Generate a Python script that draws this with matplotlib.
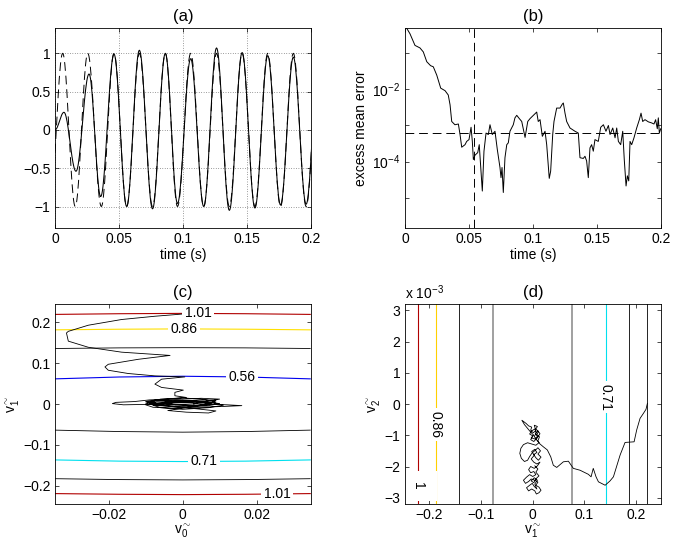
import numpy as np
import matplotlib
matplotlib.use("Agg")
import matplotlib.pyplot as plt

plt.rcParams['font.family'] = ['Liberation Sans', 'DejaVu Sans']
plt.rcParams['mathtext.fontset'] = 'custom'
plt.rcParams['mathtext.rm'] = 'Liberation Sans'
plt.rcParams['mathtext.it'] = 'Liberation Sans:italic'
plt.rcParams['font.size'] = 10
plt.rcParams['axes.linewidth'] = 0.6
for ax_name in ('xtick', 'ytick'):
    plt.rcParams[ax_name + '.direction'] = 'in'
    plt.rcParams[ax_name + '.major.size'] = 2.6
    plt.rcParams[ax_name + '.major.width'] = 0.5
    plt.rcParams[ax_name + '.major.pad'] = 3.2
plt.rcParams['xtick.top'] = True
plt.rcParams['ytick.right'] = True

MINUS = '\u2212'

# ---- (a) filter output (extrema) ----
a_out_t = [0.0, 0.007, 0.0164, 0.0266, 0.0357, 0.0461, 0.056, 0.0659, 0.0762, 0.0862,
           0.0957, 0.106, 0.1162, 0.1262, 0.1362, 0.1462, 0.1562, 0.1662, 0.1762,
           0.1862, 0.1962, 0.2062]
a_out_y = [0.0, 0.23, -0.54, 0.73, -0.87, 0.99, -1.0, 1.04, -1.03, 1.0,
           -0.96, 0.93, -1.0, 1.07, -1.05, 1.01, -1.02, 0.97, -0.98,
           0.95, -0.97, 0.95]
# reference signal extrema
a_ref_t = [-0.004, 0.006, 0.0158, 0.0256, 0.0362, 0.0461, 0.056, 0.0659, 0.0762,
           0.0862, 0.0957, 0.106, 0.1162, 0.1262, 0.1362, 0.1462, 0.1562, 0.1662,
           0.1762, 0.1862, 0.1962, 0.2062]
a_ref_y = [-1, 1, -1, 1, -1, 1, -1, 1, -1, 1, -1, 1, -1, 1, -1, 1, -1, 1, -1, 1, -1, 1]

# ---- (b) excess mean error (log10 values) ----
b_t = [0.0, 0.0008, 0.0039, 0.0078, 0.0117, 0.0143, 0.017, 0.020, 0.0221, 0.0248,
       0.0279, 0.0313, 0.0338, 0.0352, 0.0365, 0.039, 0.0417, 0.043, 0.0443, 0.0469,
       0.0482, 0.050, 0.0516, 0.0526, 0.0534, 0.0547, 0.0568, 0.058, 0.0604, 0.0617,
       0.0633, 0.0651, 0.0664, 0.0682, 0.0703, 0.0721, 0.0742, 0.075, 0.0758, 0.0768,
       0.0781, 0.0795, 0.0807, 0.082, 0.0846, 0.0859, 0.0873, 0.0893, 0.0912, 0.0938,
       0.0959, 0.0977, 0.1003, 0.1029, 0.1041, 0.1055, 0.1073, 0.1094, 0.1107, 0.1127,
       0.1138, 0.1154, 0.1164, 0.1185, 0.1211, 0.1229, 0.1237, 0.125, 0.1263, 0.1289,
       0.1328, 0.1354, 0.1367, 0.1393, 0.1406, 0.1419, 0.1432, 0.1445, 0.1458, 0.1471,
       0.1484, 0.151, 0.1529, 0.155, 0.157, 0.1589, 0.1602, 0.1623, 0.1641, 0.1654,
       0.1667, 0.1685, 0.1701, 0.1713, 0.1727, 0.1737, 0.1748, 0.1758, 0.1771, 0.1789,
       0.181, 0.1831, 0.1844, 0.1857, 0.1875, 0.1901, 0.1927, 0.1945, 0.1958, 0.1971,
       0.1979, 0.1987, 0.1998]
b_log = [-0.25, -0.285, -0.47, -0.79, -0.86, -0.97, -1.24, -1.35, -1.38, -1.61,
         -1.97, -2.04, -2.16, -2.43, -2.89, -2.98, -2.96, -3.25, -3.6, -3.53,
         -3.44, -3.39, -3.05, -3.44, -3.94, -3.82, -3.75, -3.53, -4.81, -3.71,
         -3.21, -3.25, -2.98, -3.25, -3.16, -3.66, -4.16, -4.44, -4.16, -4.85,
         -3.89, -3.53, -3.48, -3.16, -2.98, -2.79, -2.72, -2.81, -2.89, -3.33,
         -2.89, -2.81, -2.72, -2.63, -2.89, -2.84, -3.30, -3.16, -3.53, -4.46,
         -4.26, -3.25, -2.89, -2.52, -2.52, -2.41, -2.38, -2.66, -2.89, -3.07,
         -3.16, -3.21, -3.89, -3.91, -3.85, -3.98, -4.44, -3.62, -3.53, -3.71,
         -3.39, -3.44, -3.05, -2.98, -3.16, -3.0, -3.25, -3.07, -3.34, -3.07,
         -3.44, -3.53, -3.16, -3.94, -4.67, -4.39, -4.53, -3.44, -3.53, -3.34,
         -3.07, -2.84, -2.66, -2.89, -2.84, -2.90, -2.93, -2.96, -2.84, -3.09,
         -2.79, -3.21, -3.09]
b_mis_log = -3.21      # misadjustment level
b_conv_t = 0.0539      # convergence time

# ---- (c) weight trajectory v0 / v1 with MSE contours ----
c_v0 = [0.0002, -0.0075, -0.0165, -0.0255, -0.0309, -0.0314, -0.0309, -0.0255, -0.0165,
        -0.0034, -0.012, -0.0201, -0.021, -0.0201, -0.0147, -0.0075, 0.0006, -0.0057,
        -0.0075, -0.0057, 0.0002, -0.0021, -0.0021,
        0.001, -0.004, -0.009, -0.013, -0.018, -0.019, -0.016, -0.010, -0.004, 0.003,
        0.008, 0.010, 0.005, -0.002, -0.008, -0.010, -0.007, 0.000, 0.007, 0.010,
        0.006, -0.001, -0.007, -0.010, -0.006, 0.002, 0.009, 0.012, 0.016, 0.011,
        0.004, -0.003, -0.008, -0.010, -0.005, 0.003, 0.009, 0.008, 0.002, -0.005,
        -0.009, -0.006, 0.000, 0.006, 0.009, 0.005, 0.000, -0.004, 0.001, 0.007,
        0.009, 0.004, -0.003, -0.009, -0.007, 0.001, 0.008, 0.011, 0.007, 0.000,
        -0.006, -0.008, -0.003, 0.004, 0.008, 0.004, -0.002, -0.005, 0.000, 0.005,
        0.003]
c_v1 = [0.2206, 0.215, 0.207, 0.193, 0.178, 0.174, 0.154, 0.139, 0.127,
        0.119, 0.1095, 0.0973, 0.0908, 0.0827, 0.0747, 0.0689, 0.0664, 0.0608,
        0.0487, 0.0406, 0.034, 0.0285, 0.0202,
        0.016, 0.012, 0.010, 0.006, 0.004, 0.001, -0.002, -0.001, 0.002, 0.004,
        0.008, 0.012, 0.014, 0.011, 0.007, 0.002, -0.004, -0.006, -0.004, 0.001,
        0.006, 0.008, 0.010, 0.006, 0.000, -0.003, -0.001, -0.002, -0.004, -0.006,
        -0.008, -0.010, -0.008, -0.002, 0.004, 0.009, 0.010, 0.004, 0.000, -0.003,
        0.003, 0.012, 0.015, 0.011, 0.005, -0.002, -0.010, -0.016, -0.020, -0.022,
        -0.017, -0.012, -0.006, -0.001, 0.005, 0.007, 0.003, -0.003, -0.009, -0.013,
        -0.009, -0.003, 0.003, 0.006, 0.000, -0.005, -0.002, 0.004, 0.009, 0.006,
        0.000]
c_grid_v0 = [-0.0345, -0.017, 0.0, 0.017, 0.0345]
c_lines_v1 = [
    [0.2195, 0.2212, 0.222, 0.2212, 0.2195],
    [0.1817, 0.1832, 0.184, 0.1832, 0.1817],
    [0.136, 0.1375, 0.138, 0.1375, 0.136],
    [0.0616, 0.0662, 0.068, 0.0662, 0.0616],
    [-0.064, -0.0675, -0.069, -0.0675, -0.064],
    [-0.137, -0.140, -0.141, -0.140, -0.137],
    [-0.183, -0.1852, -0.186, -0.1852, -0.183],
    [-0.2195, -0.2212, -0.222, -0.2212, -0.2195],
]
c_labels = ['1.01', '0.86', '', '0.56', '', '0.71', '', '1.01']
c_label_v0 = [0.0042, 0.0004, None, 0.0161, None, 0.0058, None, 0.0256]

# ---- (d) weight trajectory v1 / v2 (v2 in units of 1e-3) ----
d_v1 = [0.2217, 0.219, 0.214, 0.2075, 0.201, 0.196, 0.1785, 0.169, 0.156, 0.1495,
        0.140, 0.127, 0.1224, 0.117, 0.1128, 0.1075, 0.0915, 0.0785, 0.0689, 0.0592,
        0.0464, 0.0398, 0.0348, 0.0282, 0.0205,
        0.014, 0.010, 0.013, 0.008, 0.011, 0.006, 0.009, 0.003, 0.006, 0.001,
        -0.004, -0.002, -0.008, -0.013, -0.018, -0.021, -0.016, -0.010, -0.004, 0.002,
        -0.003, 0.004, 0.009, 0.005, 0.010, 0.014, 0.008, 0.002, -0.004, 0.000,
        -0.006, -0.002, 0.004, 0.007, 0.003, 0.008, 0.012, 0.006,
        -0.002, -0.010, -0.018, -0.023, -0.025, -0.022, -0.016, -0.010, -0.006, -0.001,
        0.005, 0.010, 0.015, 0.010, 0.016, 0.011, 0.006, 0.002, 0.008, 0.004,
        -0.002, 0.003, -0.003, 0.002, 0.008, 0.014, 0.009,
        0.003, -0.004, -0.008, -0.004, 0.002, 0.006, 0.000, -0.006, -0.012, -0.018,
        -0.014, -0.008, -0.003, 0.004, 0.010, 0.006, 0.012, 0.016, 0.012, 0.007,
        0.004, -0.002, -0.008, -0.012, -0.006, -0.001, 0.003, 0.008, 0.004, 0.009,
        0.003, -0.003, 0.002, 0.007, 0.012, 0.006, 0.010, 0.004]
d_v2 = [0.02, -0.17, -0.30, -0.46, -0.83, -1.21, -1.23, -1.63, -2.33, -2.46,
        -2.60, -2.49, -2.33, -2.06, -2.33, -2.25, -2.12, -2.06, -1.83, -1.85,
        -2.03, -1.96, -1.69, -1.47, -1.37,
        -1.28, -1.18, -1.05, -0.98, -0.88, -0.80, -0.72, -0.68, -0.85, -0.92,
        -0.84, -0.74, -0.70, -0.62, -0.56, -0.52, -0.66, -0.78, -0.90, -1.00,
        -1.08, -1.12, -1.04, -0.94, -0.86, -0.95, -1.10, -1.20, -1.14, -1.02,
        -0.96, -0.86, -0.80, -0.92, -1.04, -1.16, -1.24, -1.32,
        -1.28, -1.24, -1.30, -1.42, -1.58, -1.74, -1.84, -1.80, -1.68, -1.56,
        -1.48, -1.40, -1.50, -1.60, -1.70, -1.80, -1.72, -1.62, -1.55, -1.45,
        -1.52, -1.64, -1.76, -1.86, -1.92, -1.86, -1.98,
        -2.06, -2.00, -2.10, -2.20, -2.16, -2.26, -2.32, -2.26, -2.34, -2.44,
        -2.54, -2.48, -2.40, -2.44, -2.50, -2.60, -2.66, -2.76, -2.84, -2.88,
        -2.78, -2.72, -2.78, -2.68, -2.60, -2.54, -2.64, -2.72, -2.56, -2.44,
        -2.36, -2.46, -2.52, -2.38, -2.30, -2.18, -2.08, -1.98]
d_lines_v1 = [-0.221, -0.188, -0.142, -0.076, 0.075, 0.141, 0.187, 0.2205]
d_labels = ['1', '0.86', '', '', '', '0.71', '', '']
d_label_v2 = [-2.62, -0.65, None, None, None, 0.22, None, None]

# styles
c_colors = ['#b00000', '#ffe000', 'k', '#0000ee', 'k', '#00e0ee', 'k', '#b00000']
d_colors = ['#b00000', '#ffd000', 'k', '#999999', '#999999', '#00e0ee', 'k', 'k']
d_widths = [0.8, 0.8, 0.6, 1.3, 1.3, 0.8, 0.6, 0.6]


def through_extrema(tx, yx, n=24):
    """Smooth half-cosine pieces between successive extrema."""
    t_out, y_out = [tx[0]], [yx[0]]
    s = np.linspace(0, 1, n)[1:]
    for t0, t1, y0, y1 in zip(tx[:-1], tx[1:], yx[:-1], yx[1:]):
        t_out.extend(t0 + (t1 - t0) * s)
        y_out.extend(y0 + (y1 - y0) * (1 - np.cos(np.pi * s)) / 2)
    return np.array(t_out), np.array(y_out)


def label_box(pad=0.2):
    return dict(boxstyle='square,pad=%g' % pad, fc='white', ec='none')


fig = plt.figure(figsize=(6.75, 5.45), dpi=100)
W, H = 675, 545
def place(l, t, r, b):
    return fig.add_axes([l / W, 1 - b / H, (r - l) / W, (b - t) / H])

ax_a = place(55, 28, 311, 228)
ax_b = place(405, 28, 661, 228)
ax_c = place(55, 304, 311, 504)
ax_d = place(405, 304, 661, 504)

t_ticks = [0, 0.05, 0.1, 0.15, 0.2]
t_ticklabels = ['0', '0.05', '0.1', '0.15', '0.2']

# (a)
tr, yr = through_extrema(a_ref_t, a_ref_y)
to, yo = through_extrema(a_out_t, a_out_y)
ax_a.plot(tr, yr, color='k', lw=0.7, dashes=(9, 5))
ax_a.plot(to, yo, color='k', lw=0.75)
ax_a.set_xlim(0, 0.2)
ax_a.set_ylim(-1.28, 1.33)
ax_a.set_xticks(t_ticks, t_ticklabels)
ax_a.set_yticks([-1, -0.5, 0, 0.5, 1], [MINUS + '1', MINUS + '0.5', '0', '0.5', '1'])
ax_a.grid(True, linestyle=(0, (1, 2.5)), color='0.25', lw=0.5)
ax_a.set_xlabel('time (s)', labelpad=1)
ax_a.set_title('(a)', pad=5)

# (b)
ax_b.semilogy(b_t, 10.0 ** np.array(b_log), color='k', lw=0.7)
ax_b.axhline(10 ** b_mis_log, color='k', lw=0.7, dashes=(9, 5))
ax_b.axvline(b_conv_t, color='k', lw=0.7, dashes=(9, 5))
ax_b.set_xlim(0, 0.2)
ax_b.set_ylim(10 ** -5.83, 10 ** -0.31)
ax_b.set_yticks([1e-5, 1e-4, 1e-3, 1e-2, 1e-1],
                ['', r'$10^{-4}$', '', r'$10^{-2}$', ''])
ax_b.minorticks_off()
ax_b.set_xticks(t_ticks, t_ticklabels)
ax_b.set_xlabel('time (s)', labelpad=1)
ax_b.set_ylabel('excess mean error', labelpad=3)
ax_b.set_title('(b)', pad=5)

# (c)
for ys, col, lab, lx in zip(c_lines_v1, c_colors, c_labels, c_label_v0):
    ax_c.plot(c_grid_v0, ys, color=col, lw=0.8 if col != 'k' else 0.6, zorder=1.5)
    if lab:
        ax_c.text(lx, np.interp(lx, c_grid_v0, ys), lab, fontsize=10, ha='center',
                  va='center', bbox=label_box(), zorder=2.3, clip_on=True)
ax_c.plot(c_v0, c_v1, color='k', lw=0.6, zorder=2.0)
ax_c.set_xlim(-0.0345, 0.0347)
ax_c.set_ylim(-0.245, 0.245)
ax_c.set_xticks([-0.02, 0, 0.02], [MINUS + '0.02', '0', '0.02'])
ax_c.set_yticks([-0.2, -0.1, 0, 0.1, 0.2],
                [MINUS + '0.2', MINUS + '0.1', '0', '0.1', '0.2'])
ax_c.set_xlabel(r'$\mathregular{v}^{\sim}_{0}$', fontsize=10, labelpad=0)
ax_c.set_ylabel(r'$\mathregular{v}^{\sim}_{1}$', fontsize=10, labelpad=1)
ax_c.set_title('(c)', pad=5)

# (d)
for xv, col, lw, lab, ly in zip(d_lines_v1, d_colors, d_widths, d_labels, d_label_v2):
    ax_d.axvline(xv, color=col, lw=lw, zorder=1.5)
    if lab:
        ax_d.text(xv, ly, lab, fontsize=10, rotation=270, ha='center', va='center',
                  bbox=label_box(0.8 if lab == '1' else 0.2),
                  zorder=2.3, clip_on=True)
ax_d.plot(d_v1, d_v2, color='k', lw=0.6, zorder=2.0)
ax_d.set_xlim(-0.247, 0.248)
ax_d.set_ylim(-3.2, 3.2)
ax_d.set_xticks([-0.2, -0.1, 0, 0.1, 0.2],
                [MINUS + '0.2', MINUS + '0.1', '0', '0.1', '0.2'])
ax_d.set_yticks([-3, -2, -1, 0, 1, 2, 3],
                [MINUS + '3', MINUS + '2', MINUS + '1', '0', '1', '2', '3'])
ax_d.text(0, 1.012, r'x $10^{-3}$', transform=ax_d.transAxes, ha='left', va='bottom')
ax_d.set_xlabel(r'$\mathregular{v}^{\sim}_{1}$', fontsize=10, labelpad=0)
ax_d.set_ylabel(r'$\mathregular{v}^{\sim}_{2}$', fontsize=10, labelpad=1)
ax_d.set_title('(d)', pad=5)

fig.savefig('out.png', dpi=100)
